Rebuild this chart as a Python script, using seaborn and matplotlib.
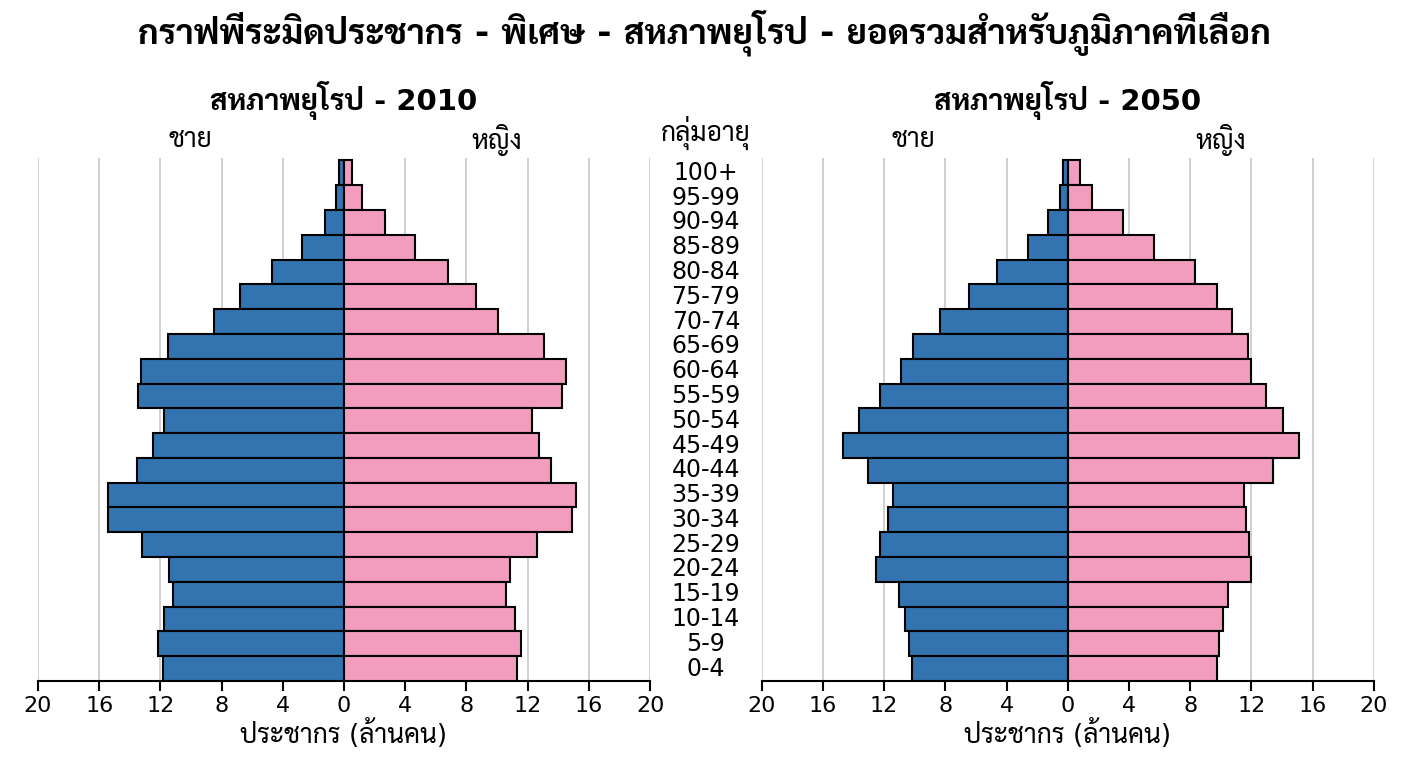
import matplotlib
matplotlib.use("Agg")
import matplotlib.pyplot as plt
import matplotlib.transforms as mtransforms
import pandas as pd
import seaborn as sns

# age groups, top to bottom
age_groups = ["100+", "95-99", "90-94", "85-89", "80-84", "75-79", "70-74",
              "65-69", "60-64", "55-59", "50-54", "45-49", "40-44", "35-39",
              "30-34", "25-29", "20-24", "15-19", "10-14", "5-9", "0-4"]

# population in millions
male_2010 = [0.33, 0.54, 1.22, 2.72, 4.70, 6.78, 8.48, 11.52, 13.26, 13.48, 11.76,
             12.5, 13.54, 15.41, 15.41, 13.22, 11.41, 11.15, 11.76, 12.17, 11.85]
female_2010 = [0.52, 1.2, 2.65, 4.63, 6.8, 8.63, 10.07, 13.09, 14.52, 14.26, 12.3,
               12.74, 13.54, 15.17, 14.91, 12.61, 10.85, 10.61, 11.17, 11.54, 11.3]
male_2050 = [0.28, 0.5, 1.28, 2.61, 4.61, 6.48, 8.35, 10.09, 10.87, 12.26, 13.63,
             14.67, 13.04, 11.43, 11.76, 12.26, 12.5, 11.04, 10.61, 10.35, 10.17]
female_2050 = [0.78, 1.61, 3.61, 5.65, 8.3, 9.76, 10.72, 11.76, 12.0, 12.96, 14.09,
               15.11, 13.43, 11.54, 11.63, 11.85, 11.96, 10.5, 10.17, 9.91, 9.74]

xticks = [-20, -16, -12, -8, -4, 0, 4, 8, 12, 16, 20]

main_title = "กราฟพีระมิดประชากร - พิเศษ - สหภาพยุโรป - ยอดรวมสำหรับภูมิภาคที่เลือก"
panel_titles = ["สหภาพยุโรป - 2010", "สหภาพยุโรป - 2050"]
male_label = "ชาย"
female_label = "หญิง"
age_label = "กลุ่มอายุ"
x_label = "ประชากร (ล้านคน)"

blue = "#3373AF"
pink = "#F29CBE"

sns.set_style("white")
# DejaVu for the digits, a looped Thai face (with a bold cut) for Thai letters
plt.rcParams["font.family"] = ["DejaVu Sans", "Sarabun", "Noto Sans Thai Looped",
                               "Noto Sans Thai"]
plt.rcParams["text.color"] = "black"

fig = plt.figure(figsize=(14.08, 7.68), dpi=100)
ax1 = fig.add_axes([0.027, 0.1133, 0.4347, 0.681])
ax2 = fig.add_axes([0.541, 0.1133, 0.4347, 0.681])

panels = [(ax1, male_2010, female_2010), (ax2, male_2050, female_2050)]

for ax, male, female in panels:
    df = pd.DataFrame({
        "age": age_groups * 2,
        "value": [-v for v in male] + list(female),
        "sex": ["m"] * len(age_groups) + ["f"] * len(age_groups),
    })
    sns.barplot(data=df[df.sex == "m"], x="value", y="age", order=age_groups,
                orient="h", color=blue, saturation=1, width=1.0,
                edgecolor="black", linewidth=1.5, ax=ax, zorder=3)
    sns.barplot(data=df[df.sex == "f"], x="value", y="age", order=age_groups,
                orient="h", color=pink, saturation=1, width=1.0,
                edgecolor="black", linewidth=1.5, ax=ax, zorder=3)
    ax.set_xlim(-20, 20)
    ax.set_ylim(len(age_groups) - 0.5, -0.6)
    ax.set_xticks(xticks)
    ax.set_xticklabels([str(abs(t)) for t in xticks], fontsize=16)
    ax.tick_params(axis="x", direction="out", length=7, width=1.5,
                   color="black", labelcolor="black", bottom=True, pad=4)
    ax.set_yticks([])
    ax.set_ylabel("")
    ax.set_xlabel(x_label, fontsize=19, labelpad=2, color="black")
    for t in xticks:
        if t != 0:
            ax.axvline(t, color="#c8c8c8", lw=1.2, zorder=0)
    for side in ["left", "right", "top"]:
        ax.spines[side].set_visible(False)
    ax.spines["bottom"].set_color("black")
    ax.spines["bottom"].set_linewidth(1.5)

# age group labels between the panels
trans = mtransforms.blended_transform_factory(fig.transFigure, ax1.transData)
for i, label in enumerate(age_groups):
    ax1.text(0.5014, i, label, transform=trans, ha="center", va="center",
             fontsize=17, clip_on=False)

fig.text(0.5, 0.957, main_title, ha="center", va="center", fontsize=25,
         fontweight="bold")
fig.text(0.2443, 0.869, panel_titles[0], ha="center", va="center",
         fontsize=21, fontweight="bold")
fig.text(0.7585, 0.869, panel_titles[1], ha="center", va="center",
         fontsize=21, fontweight="bold")
fig.text(0.5014, 0.827, age_label, ha="center", va="center", fontsize=19)
for cx in [0.135, 0.649]:
    fig.text(cx, 0.818, male_label, ha="center", va="center", fontsize=19)
for cx in [0.353, 0.867]:
    fig.text(cx, 0.818, female_label, ha="center", va="center", fontsize=19)

fig.savefig("out.png", dpi=100, facecolor="white")
